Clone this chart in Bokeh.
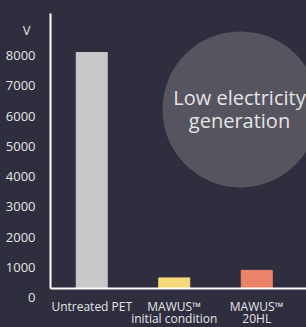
from bokeh.plotting import figure
from bokeh.models import Range1d, LabelSet, Label, ColumnDataSource
from bokeh.core.properties import value
from bokeh.embed import file_html
from bokeh.resources import INLINE

categories = ["Untreated PET", "MAWUS™\ninitial condition", "MAWUS™\n20HL"]
voltages = [7800, 350, 600]
bar_colors = ["#c8c8cb", "#f5d87a", "#ea836a"]
y_ticks = [0, 1000, 2000, 3000, 4000, 5000, 6000, 7000, 8000]
y_tick_labels = [str(v) for v in y_ticks]
unit_label = "V"
axis_top = 9091
bubble_text = "Low electricity\ngeneration"
bubble_pos = (2.303, 5920)

BG = "#2f2e3e"
FONT = "Open Sans"
LABEL_COLOR = "#e4e4e6"

xs = [i + 0.5 for i in range(len(categories))]
x_end = 3.103

p = figure(width=306, height=327, output_backend="svg", toolbar_location=None,
           x_range=Range1d(-0.606, x_end), y_range=Range1d(-1289, 9521),
           x_axis_location=None, y_axis_location=None, min_border=0)
p.background_fill_color = BG
p.border_fill_color = BG
p.outline_line_color = None
p.grid.visible = False

# decoration bubble
p.scatter([bubble_pos[0]], [bubble_pos[1]], size=156, marker="circle",
          fill_color="#56545f", line_color=None)
p.text([bubble_pos[0]], [bubble_pos[1]], text=[bubble_text], x_offset=-1,
       text_font=value(FONT), text_font_size="20px", text_color=LABEL_COLOR,
       text_align="center", text_baseline="middle", text_line_height=0.85)

src = ColumnDataSource(dict(x=xs, top=voltages, color=bar_colors))
p.vbar(x="x", top="top", width=0.376, bottom=0, color="color", source=src)

# axis lines
p.line([0, 0], [0, axis_top], line_color="white", line_width=2)
p.line([0, x_end], [0, 0], line_color="white", line_width=2)

# y tick labels (sit slightly below their values, as in the reference)
tsrc = ColumnDataSource(dict(y=y_ticks, text=y_tick_labels))
p.add_layout(LabelSet(x=35, y="y", text="text", x_units="screen", source=tsrc,
                      y_offset=-9, text_align="right", text_baseline="middle",
                      text_font=value(FONT), text_font_size="13px", text_color=LABEL_COLOR))
p.add_layout(Label(x=30, y=298, x_units="screen", y_units="screen", text=unit_label,
                   text_align="right", text_baseline="middle",
                   text_font=FONT, text_font_size="13px", text_color=LABEL_COLOR))

# category labels, one LabelSet per line
line1 = [c.split("\n")[0] for c in categories]
line2 = [(c.split("\n") + [""])[1] for c in categories]
for texts, ys in ((line1, 21), (line2, 9)):
    csrc = ColumnDataSource(dict(x=xs, text=texts))
    p.add_layout(LabelSet(x="x", y=ys, y_units="screen", text="text", source=csrc,
                          text_align="center", text_baseline="middle",
                          text_font=value(FONT), text_font_size="12px",
                          text_color=LABEL_COLOR))

html = file_html(p, INLINE)
html = html.replace("</head>", "<style>html,body{margin:0;padding:0;background:%s;overflow:hidden}</style></head>" % BG, 1)
open("out.html", "w").write(html)
